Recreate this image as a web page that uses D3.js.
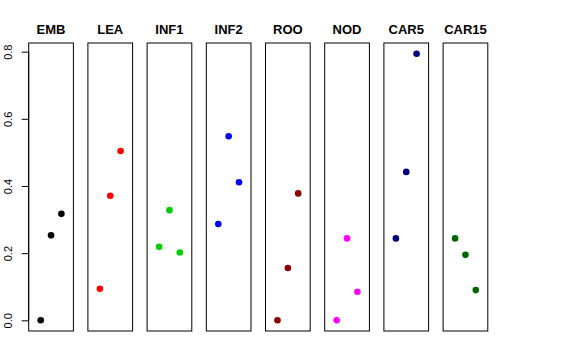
<!DOCTYPE html>
<html>
<head>
<meta charset="utf-8">
<script src="https://cdn.jsdelivr.net/npm/d3@7"></script>
<style>
  body { margin: 0; background: #fff; }
  svg { display: block; }
</style>
</head>
<body>
<div id="chart"></div>
<script>
// panel names, colours and the three values shown in each panel
const categories = ['EMB', 'LEA', 'INF1', 'INF2', 'ROO', 'NOD', 'CAR5', 'CAR15'];
const colors = ['#000000', '#ff0000', '#00cd00', '#0000ff', '#8b0000', '#ff00ff', '#000080', '#006400'];
const positions = [1, 2, 3];
const values = [
    [0.000, 0.253, 0.317],
    [0.094, 0.371, 0.504],
    [0.219, 0.328, 0.202],
    [0.287, 0.548, 0.411],
    [0.000, 0.156, 0.378],
    [0.000, 0.244, 0.085],
    [0.244, 0.442, 0.794],
    [0.244, 0.195, 0.090]
];
const yTicks = [0, 0.2, 0.4, 0.6, 0.8];

const width = 576, height = 360;

const svg = d3.select('#chart')
    .append('svg')
    .attr('width', width)
    .attr('height', height)
    .style('font-family', '"Liberation Sans", Arial, Helvetica, sans-serif');

// panels across the page
const x = d3.scaleBand()
    .domain(categories)
    .range([28.7, 487.8])
    .paddingInner(0.245)
    .paddingOuter(0);

// within one panel (xlim 0..4 plus R's 4% pad)
const xi = d3.scaleLinear()
    .domain([-0.16, 4.16])
    .range([0, x.bandwidth()]);

// shared y (0..0.794 plus 4% pad)
const y = d3.scaleLinear()
    .domain([-0.0318, 0.8258])
    .range([331, 43]);

// y axis
const yAxis = svg.append('g')
    .attr('transform', `translate(${x.range()[0]},0)`)
    .call(d3.axisLeft(y).tickValues(yTicks).tickFormat(d3.format('.1f')).tickSize(7));
yAxis.select('.domain').remove();
yAxis.append('line')
    .attr('y1', y(yTicks[0]))
    .attr('y2', y(yTicks[yTicks.length - 1]))
    .attr('stroke', '#000');
yAxis.selectAll('.tick line').attr('stroke', '#000');
yAxis.selectAll('.tick text')
    .attr('x', null)
    .attr('dy', null)
    .attr('transform', 'translate(-16.5,0) rotate(-90)')
    .attr('text-anchor', 'middle')
    .style('font-family', '"Liberation Sans", Arial, sans-serif')
    .style('font-size', '11px')
    .attr('fill', '#000');

// panels
const panels = svg.selectAll('.panel')
    .data(categories)
    .enter()
    .append('g')
    .attr('class', 'panel')
    .attr('transform', d => `translate(${x(d)},0)`);

panels.append('rect')
    .attr('x', 0)
    .attr('y', y.range()[1])
    .attr('width', x.bandwidth())
    .attr('height', y.range()[0] - y.range()[1])
    .attr('fill', 'none')
    .attr('stroke', '#000')
    .attr('stroke-width', 1);

panels.append('text')
    .attr('x', x.bandwidth() / 2)
    .attr('y', 34)
    .attr('text-anchor', 'middle')
    .style('font-size', '13px')
    .style('font-weight', '700')
    .attr('fill', '#000')
    .text(d => d);

panels.each(function(d, i) {
    d3.select(this).selectAll('circle')
        .data(values[i])
        .enter()
        .append('circle')
        .attr('cx', (v, j) => xi(positions[j]))
        .attr('cy', v => y(v))
        .attr('r', 3.3)
        .attr('fill', colors[i]);
});
</script>
</body>
</html>
